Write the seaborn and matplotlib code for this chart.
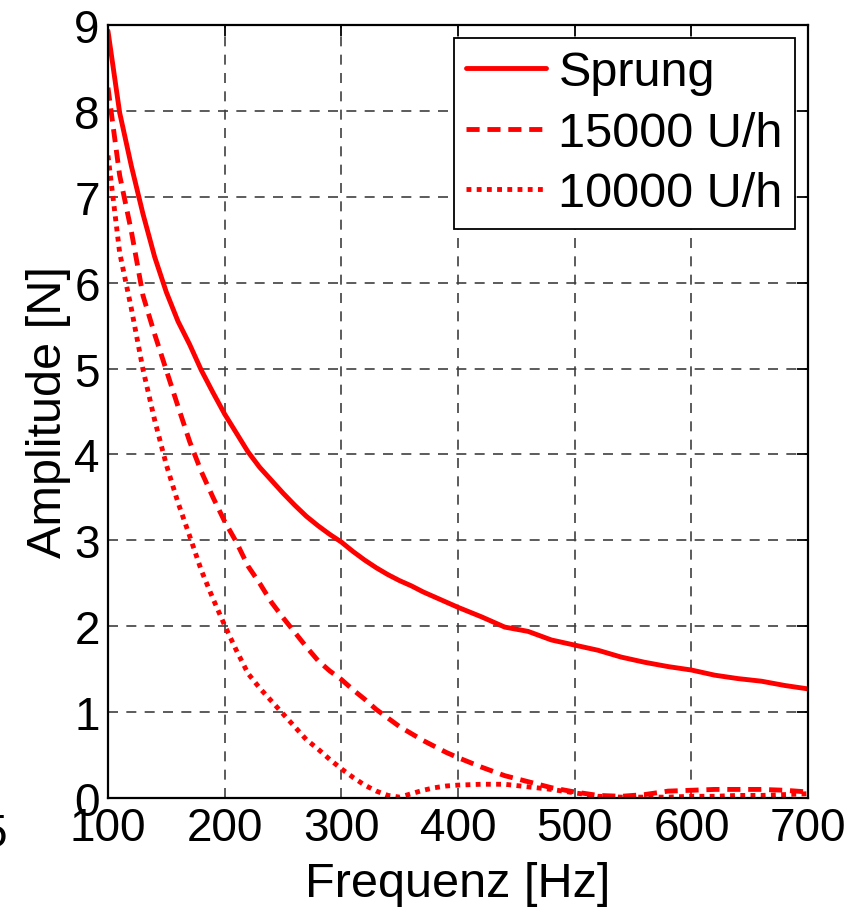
import seaborn as sns
import matplotlib.pyplot as plt
import pandas as pd

# Frequenzen in Hz
freq = [100, 110, 120, 130, 140, 150, 160, 170, 180, 190, 200, 210, 220, 230, 240,
        250, 260, 270, 280, 290, 300, 310, 320, 330, 340, 350, 360, 370, 380, 390,
        400, 420, 440, 460, 480, 500, 520, 540, 560, 580, 600, 620, 640, 660, 680, 700]

# Amplituden in N
sprung = [8.93, 7.98, 7.36, 6.80, 6.30, 5.89, 5.55, 5.28, 4.98, 4.72, 4.47, 4.25, 4.03, 3.85, 3.70,
          3.55, 3.41, 3.28, 3.17, 3.07, 2.98, 2.87, 2.77, 2.68, 2.60, 2.53, 2.47, 2.40, 2.34, 2.28,
          2.22, 2.11, 1.99, 1.94, 1.84, 1.78, 1.72, 1.64, 1.58, 1.53, 1.49, 1.43, 1.39, 1.36, 1.31, 1.27]
u15000 = [8.27, 7.25, 6.60, 5.85, 5.40, 4.98, 4.56, 4.15, 3.80, 3.50, 3.22, 2.98, 2.70, 2.50, 2.28,
          2.10, 1.93, 1.76, 1.60, 1.48, 1.38, 1.26, 1.15, 1.03, 0.93, 0.83, 0.75, 0.67, 0.60, 0.53,
          0.47, 0.36, 0.26, 0.19, 0.12, 0.07, 0.03, 0.02, 0.04, 0.08, 0.09, 0.10, 0.10, 0.10, 0.09, 0.07]
u10000 = [7.48, 6.35, 5.70, 4.99, 4.40, 3.88, 3.44, 3.05, 2.65, 2.32, 2.01, 1.72, 1.45, 1.28, 1.13,
          0.98, 0.83, 0.68, 0.57, 0.45, 0.34, 0.24, 0.15, 0.08, 0.03, 0.01, 0.05, 0.09, 0.12, 0.14,
          0.15, 0.16, 0.16, 0.13, 0.10, 0.06, 0.02, 0.01, 0.01, 0.01, 0.02, 0.02, 0.03, 0.03, 0.04, 0.05]

labels = ["Sprung", "15000 U/h", "10000 U/h"]
x_ticks = [100, 200, 300, 400, 500, 600, 700]
y_ticks = list(range(0, 10))

sns.set_style("white")
plt.rcParams['font.family'] = ['Liberation Sans', 'DejaVu Sans']
plt.rcParams['text.color'] = 'black'
plt.rcParams['axes.labelcolor'] = 'black'
fs_tick = 33
fs = 35

fig = plt.figure(figsize=(8.68, 9.12), dpi=100)
ax = fig.add_axes([0.1244, 0.1239, 0.8066, 0.8476])

df = pd.DataFrame({"freq": freq, labels[0]: sprung, labels[1]: u15000, labels[2]: u10000})
styles = ["-", (0, (2.7, 1.6)), (0, (1.0, 1.1))]
for lab, ls in zip(labels, styles):
    sns.lineplot(data=df, x="freq", y=lab, ax=ax, color="red", lw=3.5,
                 linestyle=ls, label=lab)

ax.set_xlim(100, 700)
ax.set_ylim(0, 9)
ax.set_xticks(x_ticks)
ax.set_yticks(y_ticks)
ax.grid(True, color="0.25", linestyle=(0, (6, 5)), lw=1.2)
ax.tick_params(direction="in", length=8, width=1.3, top=True, right=True,
               labelsize=fs_tick, pad=6, colors="black")
for s in ax.spines.values():
    s.set_color("black")
    s.set_linewidth(1.6)

ax.set_xlabel("Frequenz [Hz]", fontsize=fs, labelpad=8)
ax.set_ylabel("Amplitude [N]", fontsize=fs, labelpad=2)

leg = ax.legend(loc="upper right", fontsize=fs, frameon=True, fancybox=False,
                framealpha=1, edgecolor="black", borderaxespad=0.27,
                handlelength=1.65, handletextpad=0.25, labelspacing=0.32,
                borderpad=0.25)
leg.get_frame().set_linewidth(1.3)

# abgeschnittene Beschriftung vom Nachbardiagramm
fig.text(7 / 868, 1 - 813 / 912, "5", fontsize=fs_tick, ha="right", va="top")

fig.savefig("out.png", dpi=100)
